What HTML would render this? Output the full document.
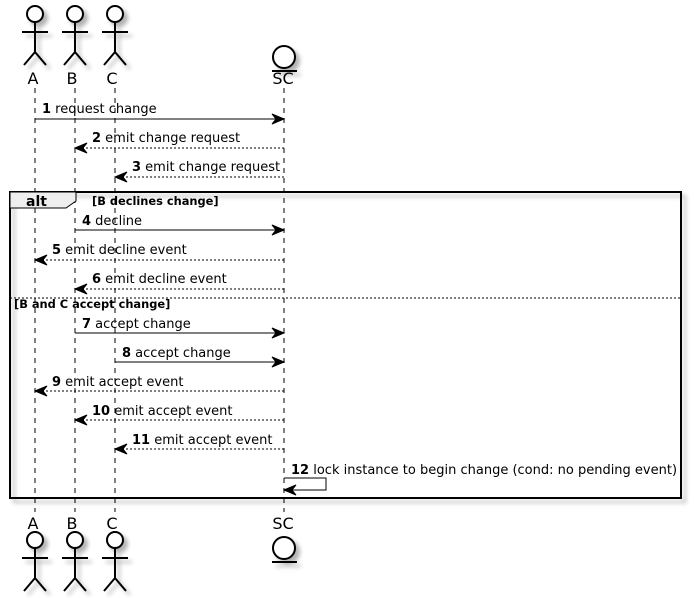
<!DOCTYPE html>
<html><head><style>body{margin:0;background:#fff}svg{display:block}text{font-family:"DejaVu Sans","Liberation Sans",sans-serif;font-size:13px;fill:#000}text.lb{font-size:16px}text.cd{font-size:11.4px;font-weight:bold}text.alt{font-size:14px;font-weight:bold}</style></head><body>
<svg width="694" height="598" viewBox="0 0 694 598" xmlns="http://www.w3.org/2000/svg">
<defs>
<filter id="sh" x="-20%" y="-20%" width="150%" height="150%"><feGaussianBlur in="SourceAlpha" stdDeviation="2"/><feOffset dx="4" dy="4"/><feComponentTransfer><feFuncA type="linear" slope="0.3"/></feComponentTransfer><feMerge><feMergeNode/><feMergeNode in="SourceGraphic"/></feMerge></filter>
<g id="actor" fill="#fff" stroke="#000" stroke-width="2"><circle cx="0" cy="0" r="8"/><path d="M0 8V38M-13 18H13M0 38L-11 51M0 38L11 51" fill="none"/></g>
<g id="ent" fill="#fff" stroke="#000" stroke-width="2"><circle cx="0" cy="0" r="11"/><path d="M-12 14H13" fill="none"/></g>
</defs>
<g stroke="#000" stroke-width="1" stroke-dasharray="5,5">
<path d="M35 88V512M75 88V512M115 88V512M284 88V512"/>
</g>
<g filter="url(#sh)">
<use href="#actor" x="35" y="14"/><use href="#actor" x="75" y="14"/><use href="#actor" x="115" y="14"/>
<use href="#ent" x="284" y="57"/>
<use href="#actor" x="35" y="540"/><use href="#actor" x="75" y="540"/><use href="#actor" x="115" y="540"/>
<use href="#ent" x="284" y="548"/>
</g>
<g text-anchor="middle">
<text class="lb" x="33" y="84">A</text><text class="lb" x="72" y="84">B</text><text class="lb" x="112" y="84">C</text><text class="lb" x="283" y="84">SC</text>
<text class="lb" x="33" y="529">A</text><text class="lb" x="72" y="529">B</text><text class="lb" x="112" y="529">C</text><text class="lb" x="283" y="529">SC</text>
</g>
<rect x="10" y="192" width="671" height="306" fill="none" stroke="#000" stroke-width="2" filter="url(#sh)"/>
<path d="M10 192H76V201L66 208H10Z" fill="#eee" stroke="#000" stroke-width="1"/>
<text class="alt" x="26" y="206">alt</text>
<text class="cd" x="92" y="205">[B declines change]</text>
<path d="M10 298H681" stroke="#000" stroke-dasharray="2,2"/>
<text class="cd" x="14" y="308">[B and C accept change]</text>
<g stroke="#000" stroke-width="1" fill="none">
<path d="M35 119H280M75 230H280M75 333H280M115 362H280"/>
<path d="M284 148H80M284 177H120M284 260H40M284 289H80M284 391H40M284 420H80M284 449H120" stroke-dasharray="2,2"/>
<path d="M284 478H326V490H288"/>
</g>
<g fill="#000" stroke="#000" stroke-width="1">
<path d="M284 119l-12-5l4 5l-4 5zM284 230l-12-5l4 5l-4 5zM284 333l-12-5l4 5l-4 5zM284 362l-12-5l4 5l-4 5z"/>
<path d="M75 148l12-5l-4 5l4 5zM115 177l12-5l-4 5l4 5zM35 260l12-5l-4 5l4 5zM75 289l12-5l-4 5l4 5zM35 391l12-5l-4 5l4 5zM75 420l12-5l-4 5l4 5zM115 449l12-5l-4 5l4 5zM284 490l12-5l-4 5l4 5z"/>
</g>
<text x="42" y="113"><tspan font-weight="bold">1</tspan> request change</text>
<text x="92" y="142"><tspan font-weight="bold">2</tspan> emit change request</text>
<text x="132" y="171"><tspan font-weight="bold">3</tspan> emit change request</text>
<text x="82" y="225"><tspan font-weight="bold">4</tspan> decline</text>
<text x="52" y="254"><tspan font-weight="bold">5</tspan> emit decline event</text>
<text x="92" y="283"><tspan font-weight="bold">6</tspan> emit decline event</text>
<text x="82" y="328"><tspan font-weight="bold">7</tspan> accept change</text>
<text x="122" y="357"><tspan font-weight="bold">8</tspan> accept change</text>
<text x="52" y="386"><tspan font-weight="bold">9</tspan> emit accept event</text>
<text x="92" y="415"><tspan font-weight="bold">10</tspan> emit accept event</text>
<text x="132" y="444"><tspan font-weight="bold">11</tspan> emit accept event</text>
<text x="291" y="474"><tspan font-weight="bold">12</tspan> lock instance to begin change (cond: no pending event)</text>
</svg>
</body></html>
